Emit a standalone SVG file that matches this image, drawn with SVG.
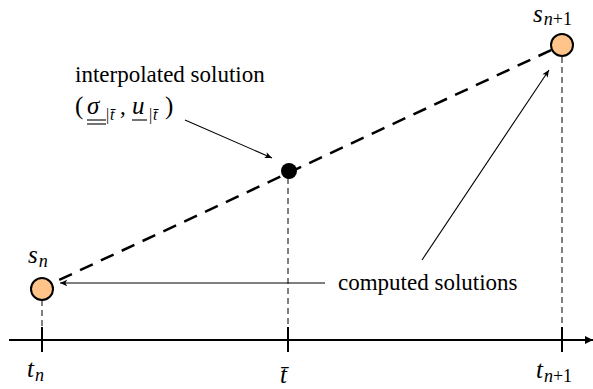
<svg xmlns="http://www.w3.org/2000/svg" width="593" height="389" viewBox="0 0 593 389">
<defs>
<marker id="barb" viewBox="0 0 10 10" refX="9" refY="5" markerWidth="9" markerHeight="9" markerUnits="userSpaceOnUse" orient="auto">
<path d="M1,1.5 L9,5 L1,8.5 L3,5 Z" fill="#000"/>
</marker>
<marker id="axhead" viewBox="0 0 10 10" refX="10" refY="5" markerWidth="8" markerHeight="9" markerUnits="userSpaceOnUse" orient="auto">
<path d="M0,0 L10,5 L0,10 Z" fill="#000"/>
</marker>
</defs>
<style>
.txt{font-family:"Liberation Serif","Times New Roman",serif;font-size:23px;fill:#000}
.m{font-family:"Liberation Serif","Times New Roman",serif;font-style:italic;font-size:25px;fill:#000}
.sub{font-size:18px}
.fs{font-size:16px}
.up{font-style:normal}
.vd{stroke:#000;stroke-width:1;stroke-dasharray:6 4;fill:none}
.tick{stroke:#000;stroke-width:2}
.thin{stroke:#000;stroke-width:1.1;fill:none;marker-end:url(#barb)}
.ul{stroke:#000;stroke-width:1.1}
.node{fill:#FEC48A;stroke:#000;stroke-width:2}
</style>
<rect width="593" height="389" fill="#fff"/>
<g id="connectors">
<line class="vd" x1="42" y1="300" x2="42" y2="330"/>
<line class="vd" x1="288" y1="178" x2="288" y2="330"/>
<line class="vd" x1="562" y1="57" x2="562" y2="330"/>
<line x1="42" y1="288" x2="562" y2="45" stroke="#000" stroke-width="2.5" stroke-dasharray="14 9" stroke-dashoffset="4"/>
<line class="thin" x1="325" y1="283" x2="60" y2="283"/>
<line class="thin" x1="422" y1="260" x2="549" y2="70"/>
<line class="thin" x1="185" y1="120" x2="272" y2="158"/>
</g>
<g id="axis">
<line x1="9" y1="340" x2="593" y2="340" stroke="#000" stroke-width="2" marker-end="url(#axhead)"/>
<line class="tick" x1="42" y1="327" x2="42" y2="352"/>
<line class="tick" x1="288" y1="327" x2="288" y2="352"/>
<line class="tick" x1="562" y1="327" x2="562" y2="352"/>
<text class="m" x="27" y="377">t<tspan class="sub" dx="1" dy="4">n</tspan></text>
<text class="m" x="280" y="383">t̄</text>
<text class="m" x="536" y="378">t<tspan class="sub" dx="1" dy="4">n</tspan><tspan class="sub up">+1</tspan></text>
</g>
<g id="node-sn">
<circle class="node" cx="42" cy="289" r="11"/>
<text class="m" x="28" y="263">s<tspan class="sub" dx="1" dy="4">n</tspan></text>
</g>
<g id="node-sn1">
<circle class="node" cx="562" cy="45" r="11"/>
<text class="m" x="533" y="22" font-size="23">s<tspan class="sub" dx="1" dy="3" font-size="17">n</tspan><tspan class="sub up" font-size="17">+1</tspan></text>
</g>
<g id="node-interp">
<circle cx="289" cy="171" r="8" fill="#000"/>
<text class="txt" x="75" y="82">interpolated solution</text>
<text class="txt" y="114"><tspan x="75" font-size="25">(</tspan><tspan class="m" x="87">σ</tspan><tspan class="fs" x="106" y="120">|</tspan><tspan class="fs m" x="110">t̄</tspan><tspan x="120" y="114">,</tspan><tspan class="m" x="132">u</tspan><tspan class="fs" x="149" y="120">|</tspan><tspan class="fs m" x="153">t̄</tspan><tspan x="165" y="114" font-size="25">)</tspan></text>
<line class="ul" x1="87" y1="120" x2="106" y2="120"/>
<line class="ul" x1="87" y1="124" x2="106" y2="124"/>
<line class="ul" x1="132" y1="120" x2="147" y2="120"/>
<text class="txt" x="338" y="290">computed solutions</text>
</g>
</svg>
